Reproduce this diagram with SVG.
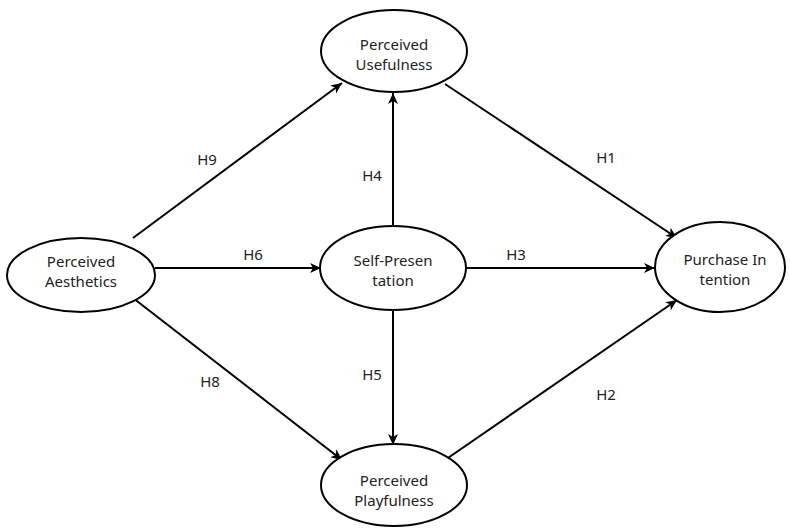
<svg xmlns="http://www.w3.org/2000/svg" width="790" height="528" viewBox="0 0 790 528">
<style>
.node ellipse{fill:#fff;stroke:#000;stroke-width:2}
.node text,.lbl{font-family:"Noto Sans","Open Sans","DejaVu Sans",sans-serif;font-size:15px;fill:#222;text-anchor:middle}
.edge{stroke:#000;stroke-width:2;fill:none;marker-end:url(#arr)}
</style>
<defs>
<marker id="arr" markerUnits="userSpaceOnUse" markerWidth="12" markerHeight="10" refX="11" refY="5" orient="auto">
<path d="M0,0 L11,5 L0,10 L3,5 z" fill="#000"/>
</marker>
</defs>
<rect width="790" height="528" fill="#fff"/>
<g id="connectors">
<line class="edge" x1="133" y1="238" x2="342" y2="83"/>
<line class="edge" x1="155" y1="268" x2="321" y2="268"/>
<line class="edge" x1="133" y1="298" x2="342" y2="460"/>
<line class="edge" x1="393" y1="226" x2="393" y2="93"/>
<line class="edge" x1="393" y1="311" x2="393" y2="445"/>
<line class="edge" x1="466" y1="268" x2="655" y2="268"/>
<line class="edge" x1="445" y1="84" x2="677" y2="238"/>
<line class="edge" x1="445" y1="460" x2="677" y2="300"/>
<text class="lbl" x="207" y="165">H9</text>
<text class="lbl" x="253" y="260">H6</text>
<text class="lbl" x="210" y="387">H8</text>
<text class="lbl" x="372" y="181">H4</text>
<text class="lbl" x="372" y="380">H5</text>
<text class="lbl" x="516" y="260">H3</text>
<text class="lbl" x="606" y="163">H1</text>
<text class="lbl" x="606" y="400">H2</text>
</g>
<g id="usefulness" class="node">
<ellipse cx="394" cy="51" rx="73" ry="41"/>
<text x="394" y="50">Perceived</text>
<text x="394" y="70">Usefulness</text>
</g>
<g id="aesthetics" class="node">
<ellipse cx="81" cy="275" rx="74" ry="37"/>
<text x="81" y="267">Perceived</text>
<text x="81" y="287">Aesthetics</text>
</g>
<g id="selfpresentation" class="node">
<ellipse cx="393" cy="268" rx="73" ry="42"/>
<text x="393" y="266">Self-Presen</text>
<text x="393" y="286">tation</text>
</g>
<g id="purchase" class="node">
<ellipse cx="720" cy="267" rx="65" ry="45"/>
<text x="725" y="265">Purchase In</text>
<text x="725" y="285">tention</text>
</g>
<g id="playfulness" class="node">
<ellipse cx="394" cy="485" rx="73" ry="41"/>
<text x="394" y="486">Perceived</text>
<text x="394" y="506">Playfulness</text>
</g>
</svg>
